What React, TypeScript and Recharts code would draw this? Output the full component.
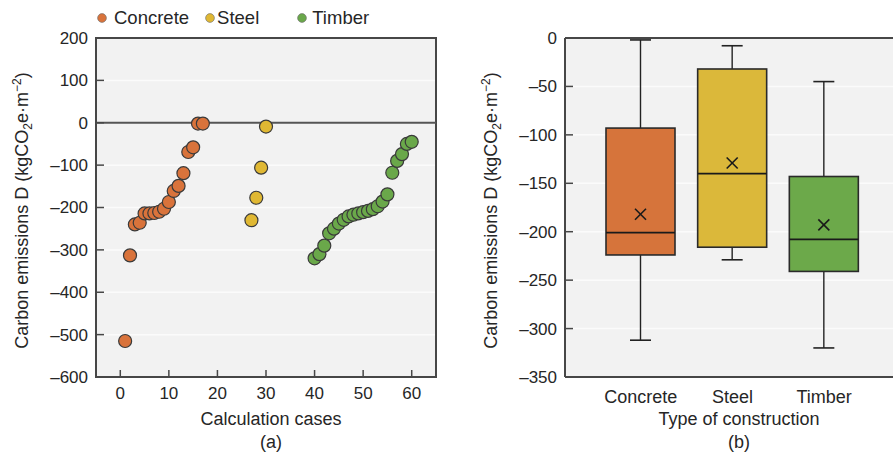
import React from 'react';
import {
  ScatterChart,
  Scatter,
  ComposedChart,
  Bar,
  XAxis,
  YAxis,
  CartesianGrid,
  ReferenceLine,
  ReferenceArea,
  Legend,
  Label,
} from 'recharts';

const FONT = '"Liberation Sans", Arial, Helvetica, sans-serif';
const INK = '#262626';
const FRAME = '#474747';
const PANEL = '#f2f2f2';
const GRID = '#fbfbfb';

// Series
const seriesNames = ['Concrete', 'Steel', 'Timber'];
const seriesColors = ['#d9733b', '#e0b833', '#6aa84a'];

// (a) emissions for each calculation case
const concreteCases = [1, 2, 3, 4, 5, 6, 7, 8, 9, 10, 11, 12, 13, 14, 15, 16, 17];
const concreteValues = [-515, -313, -240, -236, -214, -214, -213, -210, -203, -187, -161, -149, -119, -69, -58, -2, -2];

const steelCases = [27, 28, 29, 30];
const steelValues = [-230, -177, -106, -9];

const timberCases = [40, 41, 42, 43, 44, 45, 46, 47, 48, 49, 50, 51, 52, 53, 54, 55, 56, 57, 58, 59, 60];
const timberValues = [-320, -310, -290, -261, -250, -238, -229, -221, -217, -214, -211, -208, -204, -197, -186, -169, -118, -90, -74, -50, -45];

const caseTicks = [0, 10, 20, 30, 40, 50, 60];
const emissionTicksA = [200, 100, 0, -100, -200, -300, -400, -500, -600];

// (b) distribution by type of construction
const boxMin = [-312, -229, -320];
const boxQ1 = [-224, -216, -241];
const boxMedian = [-201, -140, -208];
const boxQ3 = [-93, -32, -143];
const boxMax = [-2, -8, -45];
const boxMean = [-182, -129, -193];
const boxColors = ['#d6743b', '#dbb83a', '#6ca94a'];
const emissionTicksB = [0, -50, -100, -150, -200, -250, -300, -350];

const toPoints = (cases: number[], values: number[]) =>
  cases.map((c, i) => ({ x: c, y: values[i] }));

const scatterSeries = [
  toPoints(concreteCases, concreteValues),
  toPoints(steelCases, steelValues),
  toPoints(timberCases, timberValues),
];

const boxData = seriesNames.map((name, i) => ({
  name,
  min: boxMin[i],
  q1: boxQ1[i],
  median: boxMedian[i],
  q3: boxQ3[i],
  max: boxMax[i],
  mean: boxMean[i],
  color: boxColors[i],
}));

const fmt = (v: number) => (v < 0 ? '\u2013' + Math.abs(v) : String(v));

// Left-side value tick: short inward tick mark, label outside
const YTick = (props: any) => {
  const { x, y, payload } = props;
  return (
    <g>
      <line x1={x} x2={x + 8} y1={y} y2={y} stroke={FRAME} strokeWidth={1.5} />
      <text x={x - 8} y={y} dy="0.35em" textAnchor="end" fontSize={17} fontFamily={FONT} fill={INK}>
        {fmt(payload.value)}
      </text>
    </g>
  );
};

// Bottom numeric tick: inward tick mark, label below
const XNumTick = (props: any) => {
  const { x, y, payload } = props;
  return (
    <g>
      <line x1={x} x2={x} y1={y} y2={y - 7} stroke={FRAME} strokeWidth={1.5} />
      <text x={x} y={y + 16} dy="0.35em" textAnchor="middle" fontSize={17} fontFamily={FONT} fill={INK}>
        {payload.value}
      </text>
    </g>
  );
};

const XCatTick = (props: any) => {
  const { x, y, payload } = props;
  return (
    <text x={x} y={y + 20} dy="0.35em" textAnchor="middle" fontSize={18} fontFamily={FONT} fill={INK}>
      {payload.value}
    </text>
  );
};

const xTitle = (title: string, tag: string, shift: number) => (props: any) => {
  const { x, y, width } = props.viewBox;
  const cx = x + width / 2 + shift;
  return (
    <g>
      <text x={cx} y={y + 41.5} dy="0.35em" textAnchor="middle" fontSize={18} fontFamily={FONT} fill={INK}>
        {title}
      </text>
      <text x={cx} y={y + 65} dy="0.35em" textAnchor="middle" fontSize={18} fontFamily={FONT} fill={INK}>
        {tag}
      </text>
    </g>
  );
};

const yTitle = (cxOffset: number) => (props: any) => {
  const { x, y, height } = props.viewBox;
  const cx = x + cxOffset;
  const cy = y + height / 2 + 3;
  return (
    <text
      x={cx}
      y={cy}
      transform={`rotate(-90, ${cx}, ${cy})`}
      textAnchor="middle"
      fontSize={18}
      fontFamily={FONT}
      fill={INK}
    >
      <tspan dy="0.35em">Carbon emissions D (kgCO</tspan>
      <tspan fontSize={12} dy={4}>2</tspan>
      <tspan dy={-4}>e·m</tspan>
      <tspan fontSize={12} dy={-7}>−2</tspan>
      <tspan dy={7}>)</tspan>
    </text>
  );
};

const legendSpacing = [16, 38, 0];
const legendTextGap = [7, 2, 5];

const LegendContent = () => (
  <div style={{ display: 'flex', alignItems: 'center', fontFamily: FONT, fontSize: 18.5, color: INK, lineHeight: '24px' }}>
    {seriesNames.map((name, i) => (
      <div key={name} style={{ display: 'flex', alignItems: 'center', marginRight: legendSpacing[i] }}>
        <svg width={10} height={10} style={{ display: 'block' }}>
          <circle cx={5} cy={5} r={4.4} fill={seriesColors[i]} stroke="#6a6a6a" strokeWidth={0.6} />
        </svg>
        <span style={{ marginLeft: legendTextGap[i] }}>{name}</span>
      </div>
    ))}
  </div>
);

const dotShape = (color: string) => (props: any) => (
  <circle cx={props.cx} cy={props.cy} r={6.5} fill={color} stroke="#3a3a3a" strokeWidth={1.2} />
);

// Box-and-whisker glyph drawn over the [min, max] range bar
const BoxShape = (props: any) => {
  const { x, y, width, height, payload } = props;
  const top = Math.min(y, y + height);
  const bottom = Math.max(y, y + height);
  const span = payload.max - payload.min;
  const px = (v: number) => top + ((payload.max - v) / span) * (bottom - top);
  const cx = x + width / 2;
  const cap = 10.5;
  const m = 5.5;
  const yq3 = px(payload.q3);
  const yq1 = px(payload.q1);
  const ymed = px(payload.median);
  const ymean = px(payload.mean);
  return (
    <g>
      <line x1={cx} x2={cx} y1={top} y2={yq3} stroke="#222" strokeWidth={1.4} />
      <line x1={cx} x2={cx} y1={yq1} y2={bottom} stroke="#222" strokeWidth={1.4} />
      <line x1={cx - cap} x2={cx + cap} y1={top} y2={top} stroke="#222" strokeWidth={1.6} />
      <line x1={cx - cap} x2={cx + cap} y1={bottom} y2={bottom} stroke="#222" strokeWidth={1.6} />
      <rect x={x} y={yq3} width={width} height={yq1 - yq3} fill={payload.color} stroke="#2a2a2a" strokeWidth={1.6} />
      <line x1={x} x2={x + width} y1={ymed} y2={ymed} stroke="#1a1a1a" strokeWidth={1.8} />
      <line x1={cx - m} x2={cx + m} y1={ymean - m} y2={ymean + m} stroke="#1a1a1a" strokeWidth={1.6} />
      <line x1={cx - m} x2={cx + m} y1={ymean + m} y2={ymean - m} stroke="#1a1a1a" strokeWidth={1.6} />
    </g>
  );
};

export default function App() {
  return (
    <div
      style={{
        position: 'absolute',
        left: 0,
        top: 0,
        width: 893,
        height: 456,
        overflow: 'hidden',
        background: '#fff',
        fontFamily: FONT,
      }}
    >
      <div style={{ position: 'absolute', left: 0, top: 0 }}>
        <ScatterChart width={450} height={456} margin={{ top: 38, right: 14, bottom: 0, left: 0 }}>
          <CartesianGrid vertical={false} stroke={GRID} strokeWidth={1.5} fill={PANEL} />
          <XAxis
            type="number"
            dataKey="x"
            domain={[-5, 65]}
            ticks={caseTicks}
            interval={0}
            allowDataOverflow
            height={79}
            tickSize={0}
            tickMargin={0}
            tickLine={false}
            axisLine={false}
            tick={<XNumTick />}
          >
            <Label content={xTitle('Calculation cases', '(a)', 5)} />
          </XAxis>
          <YAxis
            type="number"
            dataKey="y"
            domain={[-600, 200]}
            ticks={emissionTicksA}
            interval={0}
            allowDataOverflow
            width={96}
            tickSize={0}
            tickMargin={0}
            tickLine={false}
            axisLine={false}
            tick={<YTick />}
          >
            <Label content={yTitle(22)} />
          </YAxis>
          <ReferenceLine y={0} stroke="#555" strokeWidth={2} />
          <ReferenceArea x1={-5} x2={65} y1={-600} y2={200} fill="none" stroke={FRAME} strokeWidth={2} />
          {scatterSeries.map((data, i) => (
            <Scatter
              key={seriesNames[i]}
              name={seriesNames[i]}
              data={data}
              fill={seriesColors[i]}
              shape={dotShape(seriesColors[i])}
              isAnimationActive={false}
            />
          ))}
          <Legend
            layout="horizontal"
            verticalAlign="middle"
            align="center"
            wrapperStyle={{ top: 6, left: 97, width: 340, height: 24 }}
            content={<LegendContent />}
          />
        </ScatterChart>
      </div>

      <div style={{ position: 'absolute', left: 450, top: 0 }}>
        <ComposedChart width={473} height={456} data={boxData} margin={{ top: 38, right: 10, bottom: 0, left: 0 }}>
          <CartesianGrid vertical={false} stroke={GRID} strokeWidth={1.5} fill={PANEL} />
          <XAxis
            type="category"
            dataKey="name"
            padding={{ left: 30, right: 43 }}
            interval={0}
            height={79}
            tickSize={0}
            tickMargin={0}
            tickLine={false}
            axisLine={{ stroke: FRAME, strokeWidth: 2 }}
            tick={<XCatTick />}
          >
            <Label content={xTitle('Type of construction', '(b)', 0)} />
          </XAxis>
          <YAxis
            type="number"
            domain={[-350, 0]}
            ticks={emissionTicksB}
            interval={0}
            allowDataOverflow
            width={115}
            tickSize={0}
            tickMargin={0}
            tickLine={false}
            axisLine={{ stroke: FRAME, strokeWidth: 2 }}
            tick={<YTick />}
          >
            <Label content={yTitle(41)} />
          </YAxis>
          <ReferenceLine y={0} stroke={FRAME} strokeWidth={2} />
          <Bar
            dataKey={(d: any) => [d.min, d.max]}
            barSize={69}
            shape={<BoxShape />}
            isAnimationActive={false}
          />
        </ComposedChart>
      </div>
    </div>
  );
}
